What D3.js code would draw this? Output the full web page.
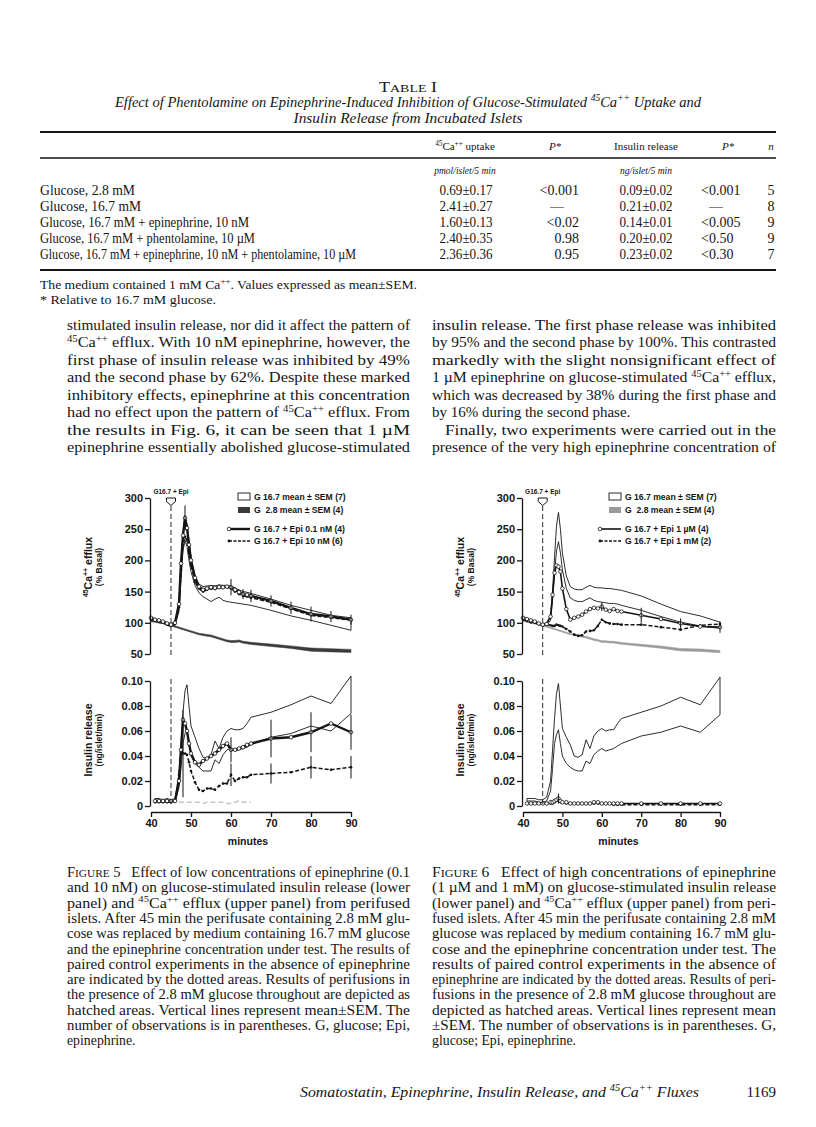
<!DOCTYPE html>
<html>
<head>
<meta charset="utf-8">
<script src="https://cdnjs.cloudflare.com/ajax/libs/d3/7.8.5/d3.min.js"></script>
<style>
  body { margin: 0; background: #fff; }
  text { white-space: pre; }
</style>
</head>
<body>
<script>

// ---- table I ----
var tableRows = ["Glucose, 2.8 mM", "Glucose, 16.7 mM", "Glucose, 16.7 mM + epinephrine, 10 nM",
  "Glucose, 16.7 mM + phentolamine, 10 \u00b5M", "Glucose, 16.7 mM + epinephrine, 10 nM + phentolamine, 10 \u00b5M"];
var caUptake = ["0.69\u00b10.17", "2.41\u00b10.27", "1.60\u00b10.13", "2.40\u00b10.35", "2.36\u00b10.36"];
var caP = ["<0.001", "\u2014", "<0.02", "0.98", "0.95"];
var insulinRelease = ["0.09\u00b10.02", "0.21\u00b10.02", "0.14\u00b10.01", "0.20\u00b10.02", "0.23\u00b10.02"];
var insulinP = ["<0.001", "\u2014", "<0.005", "<0.50", "<0.30"];
var nObs = ["5", "8", "9", "9", "7"];
var rowLabelWidth = [95, 101, 209, 215, 316]; // measured widths in the scan

// ---- figure data (minutes shared by each panel type) ----
var effluxMinutes = [40,41,42,43,44,45,46,47, 47.5,48,48.5,49,49.5, 50,51,52,53,54,55,56,57,58,59,60,61,62,63,64,65, 70,75,80,85,90];
var insulinMinutes = [41,42,43,44,45,46,47, 47.5,48,48.5,49,49.5, 50,51,52,53,54,55,56,57,58,59,60,61,62,63,64,65, 70,75,80,85,90];

// figure 5, 45Ca efflux (% basal)
var f5EffluxCtlHigh = [110,106,104,103,100,99,101,135, 200,245,272,258,232, 205,175,162,158,159,160,159,161,160,160,159,156,153,150,149,147, 138,128,120,112,108];
var f5EffluxCtlLow  = [104,102,100,99,96,94,96,118, 170,215,232,222,200, 182,160,148,142,138,134,138,141,136,134,133,132,131,130,129,128, 120,111,104,96,88];
var f5EffluxEpiA    = [108,105,104,102,99,97,100,130, 195,240,268,252,225, 200,172,158,153,155,157,156,157,157,158,157,153,149,146,145,143, 135,124,114,110,105];
var f5EffluxEpiB    = [106,104,102,101,97,95,98,125, 185,225,238,232,212, 192,165,155,150,153,155,154,156,156,157,155,150,146,143,142,140, 133,122,112,108,104];
var f5EffluxG28     = [103,102,101,100,98,96,94,92, 91,90,89,88,87, 86,84,82,81,80,79,77,75,73,71,70,70,71,69,68,67, 64,61,57,56,55];
var f5EffluxG28Sem  = [1.2,1.2,1.2,1.2,1.2,1.2,1.2,1.2, 1.2,1.2,1.2,1.2,1.2, 1.2,1.3,1.3,1.4,1.4,1.5,1.5,1.5,1.5,1.5,1.6,1.6,1.6,1.6,1.7,1.7, 2,2,2.6,2.6,2.4];
var f5EffluxErrMin  = [48.5,60,63,65,70,75,80,85,90];
var f5EffluxErrSem  = [20,13,8,10,9,10,12,9,8];

// figure 5, insulin release (ng/islet/min)
var f5InsulinCtlHigh = [.006,.006,.005,.006,.005,.006,.025, .05,.075,.092,.097,.08, .064,.055,.046,.039,.038,.041,.052,.046,.055,.06,.062,.061,.061,.062,.066,.071, .075,.081,.088,.082,.104];
var f5InsulinCtlLow  = [.003,.003,.003,.003,.003,.003,.015, .03,.05,.058,.061,.05, .04,.034,.031,.028,.028,.028,.037,.034,.041,.045,.046,.044,.045,.046,.047,.049, .055,.058,.064,.06,.074];
var f5InsulinEpiA    = [.004,.004,.004,.004,.004,.004,.02, .045,.069,.066,.06,.05, .042,.035,.033,.036,.038,.04,.042,.045,.048,.05,.045,.045,.046,.047,.049,.05, .054,.055,.059,.066,.059];
var f5InsulinEpiB    = [.003,.003,.003,.003,.003,.004,.025, .045,.042,.042,.041,.035, .028,.019,.013,.012,.014,.014,.013,.016,.018,.018,.025,.02,.022,.023,.023,.025, .026,.027,.031,.029,.031];
var f5InsulinG28     = [.004,.004,.004,.004,.004,.003,.003, .003,.003,.003,.003,.003, .003,.003,.003,.002,.003,.003,.003,.003,.003,.002,.002,.003,.004,.003,.003,.003, null,null,null,null,null];
var f5InsulinErrMin  = [48,60,70,80,90];
var f5InsulinEpiASem = [0,.01,.015,.016,.014];
var f5InsulinEpiBSem = [.035,.009,.008,.009,.009];

// figure 6, 45Ca efflux (% basal)
var f6EffluxCtlHigh = [110,107,104,102,100,98,100,112, 150,205,255,277,250, 212,175,158,154,153,153,157,160,157,156,156,155,155,154,153,152, 143,130,118,111,101];
var f6EffluxCtlLow  = [104,102,100,99,97,95,96,104, 135,180,215,230,212, 185,155,140,136,134,134,137,140,136,134,133,132,131,131,130,128, 120,110,101,95,91];
var f6EffluxEpiA    = [108,106,104,102,99,97,98,110, 145,180,192,190,182, 155,122,105,108,110,113,118,122,124,123,126,121,119,122,119,118, 112,106,99,94,93];
var f6EffluxEpiB    = [105,103,101,100,98,96,97,96, 95,95,97,96,95, 94,90,86,81,79,80,86,87,88,95,105,101,99,98,98,97, 97,93,89,96,98];
var f6EffluxG28     = [103,102,100,99,97,95,94,92, 91,90,89,88,87, 86,84,82,81,80,78,77,75,73,72,70,70,69,69,68,67, 64,61,57,56,54];
var f6EffluxG28Sem  = [1,1,1,1,1,1,1,1, 1,1,1,1,1, 1,1,1,1.1,1.1,1.2,1.2,1.3,1.3,1.3,1.4,1.4,1.4,1.4,1.5,1.5, 1.6,1.8,2,2,1.8];
var f6EffluxErrMin  = [60,70,80,90];
var f6EffluxErrSem  = [7,12,8,9];

// figure 6, insulin release (ng/islet/min)
var f6InsulinCtlHigh = [.006,.006,.006,.005,.005,.007,.02, .045,.07,.09,.098,.08, .062,.055,.049,.04,.039,.041,.053,.046,.056,.06,.062,.06,.061,.061,.066,.07, .075,.08,.087,.081,.103];
var f6InsulinCtlLow  = [.004,.004,.004,.003,.003,.004,.012, .03,.05,.057,.061,.05, .04,.034,.031,.029,.028,.028,.036,.034,.041,.044,.046,.044,.045,.046,.048,.05, .056,.059,.064,.059,.073];
var f6InsulinEpiA    = [.002,.002,.002,.002,.002,.002,.003, .003,.004,.005,.006,.004, .003,.003,.002,.002,.002,.002,.002,.002,.003,.003,.002,.002,.002,.002,.002,.002, .002,.002,.002,.002,.002];
var f6InsulinEpiB    = [.002,.002,.002,.002,.002,.002,.002, .002,.003,.004,.004,.003, .003,.002,.002,.002,.002,.002,.002,.002,.002,.002,.002,.002,.002,.001,.001,.001, .001,.001,.001,.001,.001];
var f6InsulinG28     = [null,null,null,null,null,null,null, null,null,null,null,null, null,null,null,null,null,null,null,null,null,null,null,null,null,null,null,null, null,null,null,null,null];
var f6InsulinErrMin  = [49];
var f6InsulinEpiASem = [.004];
var f6InsulinEpiBSem = [0];

var effluxTicks = [50,100,150,200,250,300];
var insulinTicks = [0,0.02,0.04,0.06,0.08,0.10];
var minuteTicks = [40,50,60,70,80,90];

var fig5Legend = ["G 16.7 mean \u00b1 SEM (7)", "G  2.8 mean \u00b1 SEM (4)", "G 16.7 + Epi 0.1 nM (4)", "G 16.7 + Epi 10 nM (6)"];
var fig6Legend = ["G 16.7 mean \u00b1 SEM (7)", "G  2.8 mean \u00b1 SEM (4)", "G 16.7 + Epi 1 \u00b5M (4)", "G 16.7 + Epi 1 mM (2)"];

// ---- running text ----
var leftBody = [
  "stimulated insulin release, nor did it affect the pattern of",
  "^{45}Ca^{++} efflux. With 10 nM epinephrine, however, the",
  "first phase of insulin release was inhibited by 49%",
  "and the second phase by 62%. Despite these marked",
  "inhibitory effects, epinephrine at this concentration",
  "had no effect upon the pattern of ^{45}Ca^{++} efflux. From",
  "the results in Fig. 6, it can be seen that 1 \u00b5M",
  "epinephrine essentially abolished glucose-stimulated"];
var rightBody = [
  "insulin release. The first phase release was inhibited",
  "by 95% and the second phase by 100%. This contrasted",
  "markedly with the slight nonsignificant effect of",
  "1 \u00b5M epinephrine on glucose-stimulated ^{45}Ca^{++} efflux,",
  "which was decreased by 38% during the first phase and",
  "by 16% during the second phase.|",
  "\tFinally, two experiments were carried out in the",
  "presence of the very high epinephrine concentration of"];
var fig5Caption = [
  "F_{IGURE} 5   Effect of low concentrations of epinephrine (0.1",
  "and 10 nM) on glucose-stimulated insulin release (lower",
  "panel) and ^{45}Ca^{++} efflux (upper panel) from perifused",
  "islets. After 45 min the perifusate containing 2.8 mM glu-",
  "cose was replaced by medium containing 16.7 mM glucose",
  "and the epinephrine concentration under test. The results of",
  "paired control experiments in the absence of epinephrine",
  "are indicated by the dotted areas. Results of perifusions in",
  "the presence of 2.8 mM glucose throughout are depicted as",
  "hatched areas. Vertical lines represent mean\u00b1SEM. The",
  "number of observations is in parentheses. G, glucose; Epi,",
  "epinephrine.|"];
var fig6Caption = [
  "F_{IGURE} 6   Effect of high concentrations of epinephrine",
  "(1 \u00b5M and 1 mM) on glucose-stimulated insulin release",
  "(lower panel) and ^{45}Ca^{++} efflux (upper panel) from peri-",
  "fused islets. After 45 min the perifusate containing 2.8 mM",
  "glucose was replaced by medium containing 16.7 mM glu-",
  "cose and the epinephrine concentration under test. The",
  "results of paired control experiments in the absence of",
  "epinephrine are indicated by the dotted areas. Results of peri-",
  "fusions in the presence of 2.8 mM glucose throughout are",
  "depicted as hatched areas. Vertical lines represent mean",
  "\u00b1SEM. The number of observations is in parentheses. G,",
  "glucose; Epi, epinephrine.|"];

var SERIF = "'Liberation Serif', 'DejaVu Serif', serif";
var SANS = "'Liberation Sans', Arial, sans-serif";
var INK = "#151515";

var svg = d3.select("body").append("svg")
  .attr("width", 816)
  .attr("height", 1127);
svg.append("rect").attr("width", 816).attr("height", 1127).attr("fill", "#fff");

// text with ^{sup} and _{smallcaps} markup
function rich(t, str, fs) {
  var parts = str.split(/(\^\{[^}]*\}|_\{[^}]*\})/);
  var up = false;
  parts.forEach(function(p) {
    if (!p) return;
    var sup = p.match(/^\^\{(.*)\}$/);
    var sc = p.match(/^_\{(.*)\}$/);
    if (sup) {
      t.append("tspan").attr("dy", up ? 0 : -fs * 0.38).attr("font-size", fs * 0.66).text(sup[1]);
      up = true;
    } else {
      var ts = t.append("tspan").attr("dy", up ? fs * 0.38 : 0);
      if (sc) ts.attr("font-size", fs * 0.78).text(sc[1]);
      else ts.text(p);
      up = false;
    }
  });
}

function addText(g, str, o) {
  var t = g.append("text")
    .attr("x", o.x)
    .attr("y", o.y)
    .attr("font-family", o.family || SERIF)
    .attr("font-size", o.size)
    .attr("font-style", o.italic ? "italic" : null)
    .attr("font-weight", o.bold ? "bold" : null)
    .attr("text-anchor", o.anchor || "start")
    .attr("fill", INK);
  rich(t, str, o.size);
  if (o.width) t.attr("textLength", o.width).attr("lengthAdjust", "spacingAndGlyphs");
  if (o.rotate) t.attr("transform", "rotate(-90," + o.x + "," + o.y + ")");
  return t;
}

// justified column of lines; "|" ends a paragraph, "\t" indents
function column(lines, x, y0, lh, width, size) {
  lines.forEach(function(s, i) {
    var last = s.slice(-1) === "|";
    var indent = s.charAt(0) === "\t" ? 13 : 0;
    s = s.replace("|", "").replace("\t", "");
    addText(svg, s, { x: x + indent, y: y0 + i * lh, size: size, width: last ? null : width - indent });
  });
}

// ---------------- Table I ----------------
addText(svg, "T_{ABLE} I", { x: 408, y: 92, size: 14, anchor: "middle", width: 58 });
addText(svg, "Effect of Phentolamine on Epinephrine-Induced Inhibition of Glucose-Stimulated ^{45}Ca^{++} Uptake and",
  { x: 408, y: 107, size: 14.5, italic: true, anchor: "middle", width: 586 });
addText(svg, "Insulin Release from Incubated Islets", { x: 408, y: 123, size: 14.5, italic: true, anchor: "middle", width: 229 });

svg.append("line").attr("x1", 40).attr("x2", 776).attr("y1", 132).attr("y2", 132).attr("stroke", INK).attr("stroke-width", 2);
svg.append("line").attr("x1", 40).attr("x2", 776).attr("y1", 158).attr("y2", 158).attr("stroke", INK).attr("stroke-width", 1.4);
svg.append("line").attr("x1", 40).attr("x2", 776).attr("y1", 270).attr("y2", 270).attr("stroke", INK).attr("stroke-width", 2);

addText(svg, "^{45}Ca^{++} uptake", { x: 465, y: 150, size: 11, anchor: "middle" });
addText(svg, "P*", { x: 555, y: 150, size: 11, italic: true, anchor: "middle" });
addText(svg, "Insulin release", { x: 646, y: 150, size: 11, anchor: "middle" });
addText(svg, "P*", { x: 728, y: 150, size: 11, italic: true, anchor: "middle" });
addText(svg, "n", { x: 771, y: 150, size: 11, italic: true, anchor: "middle" });
addText(svg, "pmol/islet/5 min", { x: 465, y: 174, size: 9.5, italic: true, anchor: "middle" });
addText(svg, "ng/islet/5 min", { x: 646, y: 174, size: 9.5, italic: true, anchor: "middle" });

tableRows.forEach(function(r, i) {
  var y = 195 + i * 16;
  addText(svg, r, { x: 40, y: y, size: 14.5, width: rowLabelWidth[i] });
  addText(svg, caUptake[i], { x: 466, y: y, size: 14.5, anchor: "middle", width: 53 });
  if (caP[i] === "\u2014") addText(svg, caP[i], { x: 557, y: y, size: 14, anchor: "middle" });
  else addText(svg, caP[i], { x: 579, y: y, size: 14, anchor: "end" });
  addText(svg, insulinRelease[i], { x: 646, y: y, size: 14.5, anchor: "middle", width: 53 });
  if (insulinP[i] === "\u2014") addText(svg, insulinP[i], { x: 716, y: y, size: 14, anchor: "middle" });
  else addText(svg, insulinP[i], { x: 701, y: y, size: 14 });
  addText(svg, nObs[i], { x: 771, y: y, size: 14, anchor: "middle" });
});

addText(svg, "The medium contained 1 mM Ca^{++}. Values expressed as mean\u00b1SEM.", { x: 40, y: 289, size: 13.5, width: 377 });
addText(svg, "* Relative to 16.7 mM glucose.", { x: 40, y: 304, size: 13.5, width: 176 });

// ---------------- body text ----------------
column(leftBody, 67, 330, 17.45, 343, 15);
column(rightBody, 432, 330, 17.45, 344, 15);

// ---------------- figures ----------------
function drawFigure(f) {
  var g = svg.append("g");
  var x = d3.scaleLinear().domain([40, 90]).range([f.left, f.left + f.w]);
  var yE = d3.scaleLinear().domain([50, 300]).range([654, 498]);
  var yI = d3.scaleLinear().domain([0, 0.1]).range([806, 681]);

  function panel(minutes, s, y) {
    var pts = minutes.map(function(m, i) {
      return { m: m, hi: s.ctlHigh[i], lo: s.ctlLow[i], g: s.g28[i], gs: s.g28Sem ? s.g28Sem[i] : 0, a: s.epiA[i], b: s.epiB[i] };
    });

    // control band, open with outline
    g.append("path")
      .datum(pts)
      .attr("d", d3.area().x(function(d) { return x(d.m); }).y0(function(d) { return y(d.lo); }).y1(function(d) { return y(d.hi); }))
      .attr("fill", "#fff")
      .attr("stroke", INK)
      .attr("stroke-width", 0.9)
      .attr("stroke-linejoin", "round");

    // 2.8 mM glucose, hatched band
    if (s.g28Sem) {
      g.append("path")
        .datum(pts)
        .attr("d", d3.area().x(function(d) { return x(d.m); })
          .y0(function(d) { return y(d.g - d.gs); }).y1(function(d) { return y(d.g + d.gs); }))
        .attr("fill", f.g28Color)
        .attr("stroke", f.g28Color)
        .attr("stroke-width", 0.5);
    } else {
      g.append("path")
        .datum(pts.filter(function(d) { return d.g != null; }))
        .attr("d", d3.line().x(function(d) { return x(d.m); }).y(function(d) { return y(d.g); }))
        .attr("fill", "none")
        .attr("stroke", "#c4c4c4")
        .attr("stroke-width", 1.6)
        .attr("stroke-dasharray", "5,3");
    }

    var line = function(key) {
      return d3.line().x(function(d) { return x(d.m); }).y(function(d) { return y(d[key]); });
    };

    // higher epinephrine: dashed with dots
    g.append("path").datum(pts).attr("d", line("b"))
      .attr("fill", "none").attr("stroke", INK).attr("stroke-width", 1.5).attr("stroke-dasharray", "4,2");
    g.selectAll(null).data(pts).enter().append("circle")
      .attr("cx", function(d) { return x(d.m); }).attr("cy", function(d) { return y(d.b); })
      .attr("r", 1.3).attr("fill", INK);

    // lower epinephrine: solid with open circles
    g.append("path").datum(pts).attr("d", line("a"))
      .attr("fill", "none").attr("stroke", INK).attr("stroke-width", f.solidW);
    g.selectAll(null).data(pts).enter().append("circle")
      .attr("cx", function(d) { return x(d.m); }).attr("cy", function(d) { return y(d.a); })
      .attr("r", 1.8).attr("fill", "#fff").attr("stroke", INK).attr("stroke-width", 0.8);

    // mean +- SEM bars
    function bars(times, sems, values) {
      times.forEach(function(t, i) {
        if (!sems[i]) return;
        var v = values[minutes.indexOf(t)];
        g.append("line")
          .attr("x1", x(t)).attr("x2", x(t))
          .attr("y1", y(v - sems[i])).attr("y2", y(v + sems[i]))
          .attr("stroke", INK).attr("stroke-width", 1);
      });
    }
    bars(s.errMin, s.errA, s.epiA);
    if (s.errB) bars(s.errMin, s.errB, s.epiB);
  }

  panel(effluxMinutes, f.efflux, yE);
  panel(insulinMinutes, f.insulin, yI);

  // axes
  var ax = g.append("g").attr("transform", "translate(" + (f.left - 1) + ",0)")
    .call(d3.axisLeft(yE).tickValues(effluxTicks).tickSize(5).tickSizeOuter(0).tickPadding(2));
  var ai = g.append("g").attr("transform", "translate(" + (f.left - 1) + ",0)")
    .call(d3.axisLeft(yI).tickValues(insulinTicks).tickSize(5).tickSizeOuter(0).tickPadding(2)
      .tickFormat(function(d) { return d === 0 ? "0" : d3.format(".2f")(d); }));
  var axb = g.append("g").attr("transform", "translate(0,812)")
    .call(d3.axisBottom(x).tickValues(minuteTicks).tickSize(5).tickSizeOuter(0).tickPadding(2));
  [ax, ai, axb].forEach(function(a) {
    a.selectAll("path, line").attr("stroke", INK).attr("stroke-width", 1.3);
    a.selectAll("text").attr("font-family", SANS).attr("font-weight", "bold").attr("font-size", 11).attr("fill", INK);
  });
  addText(g, "minutes", { x: f.left + f.w / 2 - 3, y: 845, size: 10.5, family: SANS, bold: true, anchor: "middle" });

  // axis titles
  addText(g, "^{45}Ca^{++} efflux", { x: f.left - 59, y: 567, size: 10.5, family: SANS, bold: true, anchor: "middle", rotate: true });
  addText(g, "(% Basal)", { x: f.left - 49, y: 567, size: 8.5, family: SANS, bold: true, anchor: "middle", rotate: true });
  addText(g, "Insulin release", { x: f.left - 59, y: 740, size: 10.5, family: SANS, bold: true, anchor: "middle", rotate: true });
  addText(g, "(ng/islet/min)", { x: f.left - 49, y: 740, size: 8.5, family: SANS, bold: true, anchor: "middle", rotate: true });

  // switch marker at 45 min
  var xs = x(45);
  g.append("line").attr("x1", xs).attr("x2", xs).attr("y1", 506).attr("y2", 657)
    .attr("stroke", INK).attr("stroke-width", 0.9).attr("stroke-dasharray", "5,3");
  g.append("line").attr("x1", xs).attr("x2", xs).attr("y1", 679).attr("y2", 806)
    .attr("stroke", INK).attr("stroke-width", 0.9).attr("stroke-dasharray", "5,3");
  g.append("path")
    .attr("d", "M" + (xs - 4.5) + ",498 L" + (xs + 4.5) + ",498 L" + (xs + 4.5) + ",501.5 L" + xs + ",505.5 L" + (xs - 4.5) + ",501.5 Z")
    .attr("fill", "#fff").attr("stroke", INK).attr("stroke-width", 1);
  addText(g, "G16.7 + Epi", { x: xs, y: 494, size: 6.5, family: SANS, bold: true, anchor: "middle" });

  // legend
  var lx = f.legendX;
  g.append("rect").attr("x", lx).attr("y", 493).attr("width", 12).attr("height", 7)
    .attr("fill", "#fff").attr("stroke", INK).attr("stroke-width", 0.9);
  g.append("rect").attr("x", lx).attr("y", 507).attr("width", 12).attr("height", 6)
    .attr("fill", f.g28Color);
  g.append("line").attr("x1", lx - 9).attr("x2", lx + 12).attr("y1", 529).attr("y2", 529)
    .attr("stroke", INK).attr("stroke-width", f.solidW);
  g.append("circle").attr("cx", lx - 9).attr("cy", 529).attr("r", 1.8)
    .attr("fill", "#fff").attr("stroke", INK).attr("stroke-width", 0.8);
  g.append("line").attr("x1", lx - 9).attr("x2", lx + 12).attr("y1", 541).attr("y2", 541)
    .attr("stroke", INK).attr("stroke-width", 1.4).attr("stroke-dasharray", "3,1.5");
  g.append("circle").attr("cx", lx - 9).attr("cy", 541).attr("r", 1.4).attr("fill", INK);
  var ly = [500, 513, 532, 544];
  f.legend.forEach(function(s, i) {
    addText(g, s, { x: lx + 16, y: ly[i], size: 8.6, family: SANS, bold: true });
  });
}

drawFigure({
  left: 151, w: 200, legendX: 238, solidW: 2.4, g28Color: "#3a3a3a", legend: fig5Legend,
  efflux: { ctlHigh: f5EffluxCtlHigh, ctlLow: f5EffluxCtlLow, g28: f5EffluxG28, g28Sem: f5EffluxG28Sem,
    epiA: f5EffluxEpiA, epiB: f5EffluxEpiB, errMin: f5EffluxErrMin, errA: f5EffluxErrSem },
  insulin: { ctlHigh: f5InsulinCtlHigh, ctlLow: f5InsulinCtlLow, g28: f5InsulinG28,
    epiA: f5InsulinEpiA, epiB: f5InsulinEpiB, errMin: f5InsulinErrMin, errA: f5InsulinEpiASem, errB: f5InsulinEpiBSem }
});

drawFigure({
  left: 523, w: 197, legendX: 609, solidW: 1.6, g28Color: "#9a9a9a", legend: fig6Legend,
  efflux: { ctlHigh: f6EffluxCtlHigh, ctlLow: f6EffluxCtlLow, g28: f6EffluxG28, g28Sem: f6EffluxG28Sem,
    epiA: f6EffluxEpiA, epiB: f6EffluxEpiB, errMin: f6EffluxErrMin, errA: f6EffluxErrSem },
  insulin: { ctlHigh: f6InsulinCtlHigh, ctlLow: f6InsulinCtlLow, g28: f6InsulinG28,
    epiA: f6InsulinEpiA, epiB: f6InsulinEpiB, errMin: f6InsulinErrMin, errA: f6InsulinEpiASem, errB: f6InsulinEpiBSem }
});

// ---------------- captions ----------------
column(fig5Caption, 67, 877, 15.3, 343, 13.8);
column(fig6Caption, 432, 877, 15.3, 344, 13.8);

// ---------------- running foot ----------------
addText(svg, "Somatostatin, Epinephrine, Insulin Release, and ^{45}Ca^{++} Fluxes", { x: 300, y: 1097, size: 15, italic: true, width: 399 });
addText(svg, "1169", { x: 776, y: 1097, size: 15, anchor: "end" });

</script>
</body>
</html>
